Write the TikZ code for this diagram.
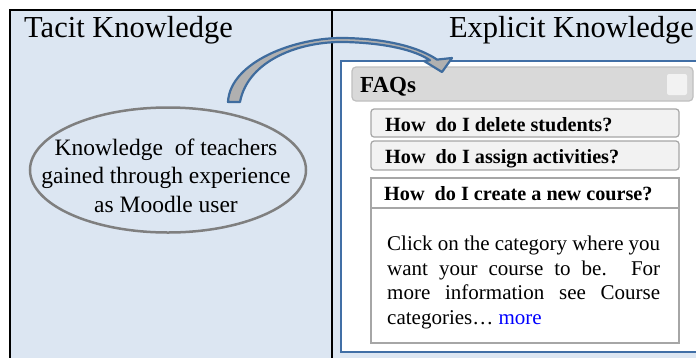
\documentclass[tikz,border=0pt]{standalone}
\usepackage{fontspec}
\setmainfont{Liberation Serif}
\usetikzlibrary{shapes.geometric}
\definecolor{panelblue}{HTML}{DCE6F2}
\definecolor{arrowblue}{HTML}{3F6C9E}
\definecolor{arrowgray}{HTML}{B0B0B0}
\definecolor{ellgray}{HTML}{7F7F7F}
\definecolor{boxblue}{HTML}{416FA6}
\definecolor{barfill}{HTML}{D9D9D9}
\definecolor{barline}{HTML}{BFBFBF}
\definecolor{qfill}{HTML}{F2F2F2}
\definecolor{qline}{HTML}{A6A6A6}
\tikzset{
  panel/.style={draw=black, line width=2pt, fill=panelblue},
  title/.style={font=\fontsize{30.5}{36}\selectfont, inner sep=0pt},
  qbox/.style={draw=qline, line width=1.2pt, fill=qfill, rounded corners=3pt},
  qtext/.style={font=\bfseries\fontsize{20.2}{24}\selectfont, inner sep=0pt, anchor=base west},
}
\begin{document}
\begin{tikzpicture}[x=1pt,y=-1pt]
\useasboundingbox (0,0) rectangle (696,357);
\clip (0,0) rectangle (696,357);
\fill[white] (0,0) rectangle (696,357);
% panels
\draw[panel] (10,10) rectangle (332,365);
\draw[panel] (332,10) rectangle (705,365);
\node[title, anchor=base west] (tacit) at (24,37) {Tacit Knowledge};
\node[title, anchor=base east] (explicit) at (694,37) {Explicit Knowledge};
% white box
\draw[draw=boxblue, line width=1.5pt, fill=white] (341,61) rectangle (705,352);
% FAQs bar
\draw[draw=barline, line width=1.2pt, fill=barfill, rounded corners=4pt] (352,67) rectangle (693,101);
\node[draw=none, fill=qfill, rounded corners=2pt, minimum width=20pt, minimum height=21pt, inner sep=0pt] (sq) at (677,84.5) {};
\node[font=\bfseries\fontsize{23}{27}\selectfont, inner sep=0pt, anchor=base west] (faqs) at (360,92) {FAQs};
% questions
\draw[qbox] (371,109) rectangle (679,137);
\node[qtext] (q1) at (385,131) {How\ \ do I delete students?};
\draw[qbox] (371,141) rectangle (679,170);
\node[qtext] (q2) at (385,163) {How\ \ do I assign activities?};
\draw[draw=qline, line width=1.2pt, fill=white] (371,178) rectangle (679,343);
\draw[draw=qline, line width=1.2pt] (371,208) -- (679,208);
\node[qtext] (q3) at (384,200) {How\ \ do I create a new course?};
\node[inner sep=0pt, anchor=base west, align=left, font=\fontsize{21}{24.5}\selectfont] (ans) at (387,324)
 {\makebox[273pt][s]{Click on the category where you}\\
  \makebox[273pt][s]{want your course to be. For}\\
  \makebox[273pt][s]{more information see Course}\\
  categories\dots\ \textcolor{blue}{more}};
% ellipse
\node[draw=ellgray, line width=2.5pt, ellipse, minimum width=276pt, minimum height=125pt, inner sep=0pt] (ell) at (168,170) {};
\node[inner sep=0pt, anchor=base, align=center, font=\fontsize{23.5}{28.5}\selectfont] (etext) at (166,212)
 {Knowledge\ \ of teachers\\ gained\ through\ experience\\ as Moodle user};
% curved block arrow
\draw[draw=arrowblue, line width=2.2pt, fill=arrowgray, line join=round]
  (228,102) .. controls (230,62) and (295,37) .. (345,38)
  .. controls (390,39) and (420,48) .. (437,59.6)
  -- (452,58) -- (442,72) -- (424,61) -- (430,60.3)
  .. controls (415,50) and (385,43) .. (345,42)
  .. controls (300,41) and (248,60) .. (240,102) -- cycle;
\end{tikzpicture}
\end{document}
